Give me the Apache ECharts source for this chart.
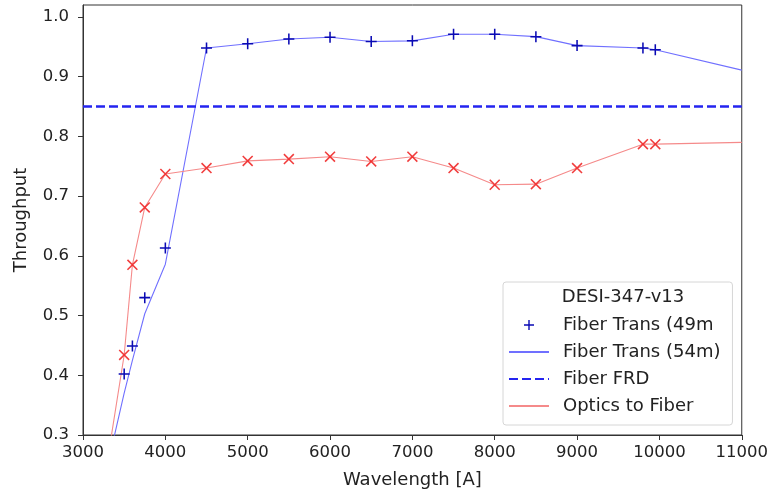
<!DOCTYPE html>
<html>
<head>
<meta charset="utf-8">
<script src="https://cdn.jsdelivr.net/npm/echarts@6/dist/echarts.min.js"></script>
<style>
html,body{margin:0;padding:0;background:#fff;}
#chart{width:771px;height:495px;}
</style>
</head>
<body>
<div id="chart"></div>
<script>
// Fiber Trans (49m) markers
const trans49Wave = [3500, 3600, 3750, 4000, 4500, 5000, 5500, 6000, 6500, 7000, 7500, 8000, 8500, 9000, 9800, 9950];
const trans49Val  = [0.402, 0.449, 0.530, 0.613, 0.948, 0.955, 0.963, 0.966, 0.959, 0.960, 0.971, 0.971, 0.967, 0.952, 0.948, 0.945];
// Fiber Trans (54m) line
const trans54Wave = [3300, 3500, 3600, 3750, 4000, 4500, 5000, 5500, 6000, 6500, 7000, 7500, 8000, 8500, 9000, 9800, 9950, 11000];
const trans54Val  = [0.250, 0.370, 0.425, 0.503, 0.586, 0.948, 0.955, 0.963, 0.966, 0.959, 0.960, 0.971, 0.971, 0.967, 0.952, 0.948, 0.945, 0.911];
// Fiber FRD
const frdWave = [3000, 11000];
const frdVal  = [0.85, 0.85];
// Optics to Fiber
const opticsWave = [3300, 3500, 3600, 3750, 4000, 4500, 5000, 5500, 6000, 6500, 7000, 7500, 8000, 8500, 9000, 9800, 9950, 11000];
const opticsVal  = [0.260, 0.434, 0.585, 0.681, 0.737, 0.747, 0.759, 0.762, 0.766, 0.758, 0.766, 0.747, 0.719, 0.720, 0.747, 0.787, 0.787, 0.790];
// Optics markers (points without the extrapolated ends)
const opticsMarkWave = [3500, 3600, 3750, 4000, 4500, 5000, 5500, 6000, 6500, 7000, 7500, 8000, 8500, 9000, 9800, 9950];
const opticsMarkVal  = [0.434, 0.585, 0.681, 0.737, 0.747, 0.759, 0.762, 0.766, 0.758, 0.766, 0.747, 0.719, 0.720, 0.747, 0.787, 0.787];

const xTicks = [3000, 4000, 5000, 6000, 7000, 8000, 9000, 10000, 11000];
const yTicks = [0.3, 0.4, 0.5, 0.6, 0.7, 0.8, 0.9, 1.0];

const zip = (a, b) => a.map((v, i) => [v, b[i]]);

const plusPath = 'path://M0,0 h0.01 v0.01 Z M14,14 h-0.01 v-0.01 Z M6.3,2 H7.7 V6.3 H12 V7.7 H7.7 V12 H6.3 V7.7 H2 V6.3 H6.3 Z';
const plusMark = 'path://M4.3,0 H5.7 V4.3 H10 V5.7 H5.7 V10 H4.3 V5.7 H0 V4.3 H4.3 Z';
const xMark = 'path://M0,1 L1,0 L10,9 L9,10 Z M9,0 L10,1 L1,10 L0,9 Z';

const font = 'DejaVu Sans';
const txt = '#222';

const chart = echarts.init(document.getElementById('chart'), null, {renderer: 'canvas'});
chart.setOption({
  backgroundColor: '#fff',
  animation: false,
  title: {
    text: 'DESI-347-v13',
    left: 618, top: 283,
    textAlign: 'center',
    textStyle: {fontFamily: font, fontSize: 18, fontWeight: 'normal', color: txt}
  },
  legend: {
    orient: 'vertical',
    left: 503, top: 282,
    padding: [34, 12, 10, 5],
    backgroundColor: '#fff',
    borderColor: '#d6d6d6',
    borderWidth: 1,
    borderRadius: 3,
    itemWidth: 40, itemHeight: 14, itemGap: 9,
    textStyle: {fontFamily: font, fontSize: 18, color: txt, padding: [0, 0, 0, 9]},
    data: [
      {name: 'Fiber Trans (49m', icon: plusPath},
      {name: 'Fiber Trans (54m)', itemStyle: {opacity: 0}},
      {name: 'Fiber FRD', itemStyle: {opacity: 0}},
      {name: 'Optics to Fiber', itemStyle: {opacity: 0}}
    ]
  },
  grid: {left: 83, right: 28, top: 5, bottom: 60, show: true, borderColor: '#333', borderWidth: 1, containLabel: false},
  xAxis: {
    type: 'value', min: 3000, max: 11000, interval: 1000,
    name: 'Wavelength [A]', nameLocation: 'middle', nameGap: 36,
    nameTextStyle: {fontFamily: font, fontSize: 18, color: txt},
    axisLine: {show: true, onZero: false, lineStyle: {color: '#333', width: 1}},
    axisTick: {show: true, inside: false, length: 5, lineStyle: {color: '#333'}},
    axisLabel: {fontFamily: font, fontSize: 16.5, color: txt, margin: 9, formatter: v => String(v)},
    splitLine: {show: false}
  },
  yAxis: {
    type: 'value', min: 0.3, max: 1.02, interval: 0.1,
    name: 'Throughput', nameLocation: 'middle', nameGap: 53,
    nameTextStyle: {fontFamily: font, fontSize: 18, color: txt},
    axisLine: {show: true, lineStyle: {color: '#333', width: 1}},
    axisTick: {show: true, inside: false, length: 5, lineStyle: {color: '#333'}},
    axisLabel: {fontFamily: font, fontSize: 16.5, color: txt, margin: 14, showMaxLabel: false,
      formatter: v => (yTicks.some(t => Math.abs(t - v) < 1e-6) ? v.toFixed(1) : '')},
    splitLine: {show: false}
  },
  series: [
    {
      name: 'Fiber Trans (49m', type: 'scatter', data: zip(trans49Wave, trans49Val),
      symbol: plusMark, symbolSize: 11, z: 5,
      itemStyle: {color: '#0a0ab4', opacity: 1}
    },
    {
      name: 'Fiber Trans (54m)', type: 'line', data: zip(trans54Wave, trans54Val),
      symbol: 'none', clip: true, z: 3,
      itemStyle: {color: '#7070ff'},
      lineStyle: {color: '#7070ff', width: 1.1}
    },
    {
      name: 'Fiber FRD', type: 'line', data: zip(frdWave, frdVal),
      symbol: 'none', clip: true, z: 3,
      itemStyle: {color: '#2424f0'},
      lineStyle: {color: '#2424f0', width: 2.6, type: [9, 4]}
    },
    {
      name: 'Optics to Fiber', type: 'line', data: zip(opticsWave, opticsVal),
      symbol: 'none', clip: true, z: 3,
      itemStyle: {color: '#f58a8a'},
      lineStyle: {color: '#f58a8a', width: 1.1}
    },
    {
      name: 'optics markers', type: 'scatter', data: zip(opticsMarkWave, opticsMarkVal),
      symbol: xMark, symbolSize: 11, z: 5,
      itemStyle: {color: '#f02828', opacity: 0.9}
    }
  ]
});
</script>
</body>
</html>
